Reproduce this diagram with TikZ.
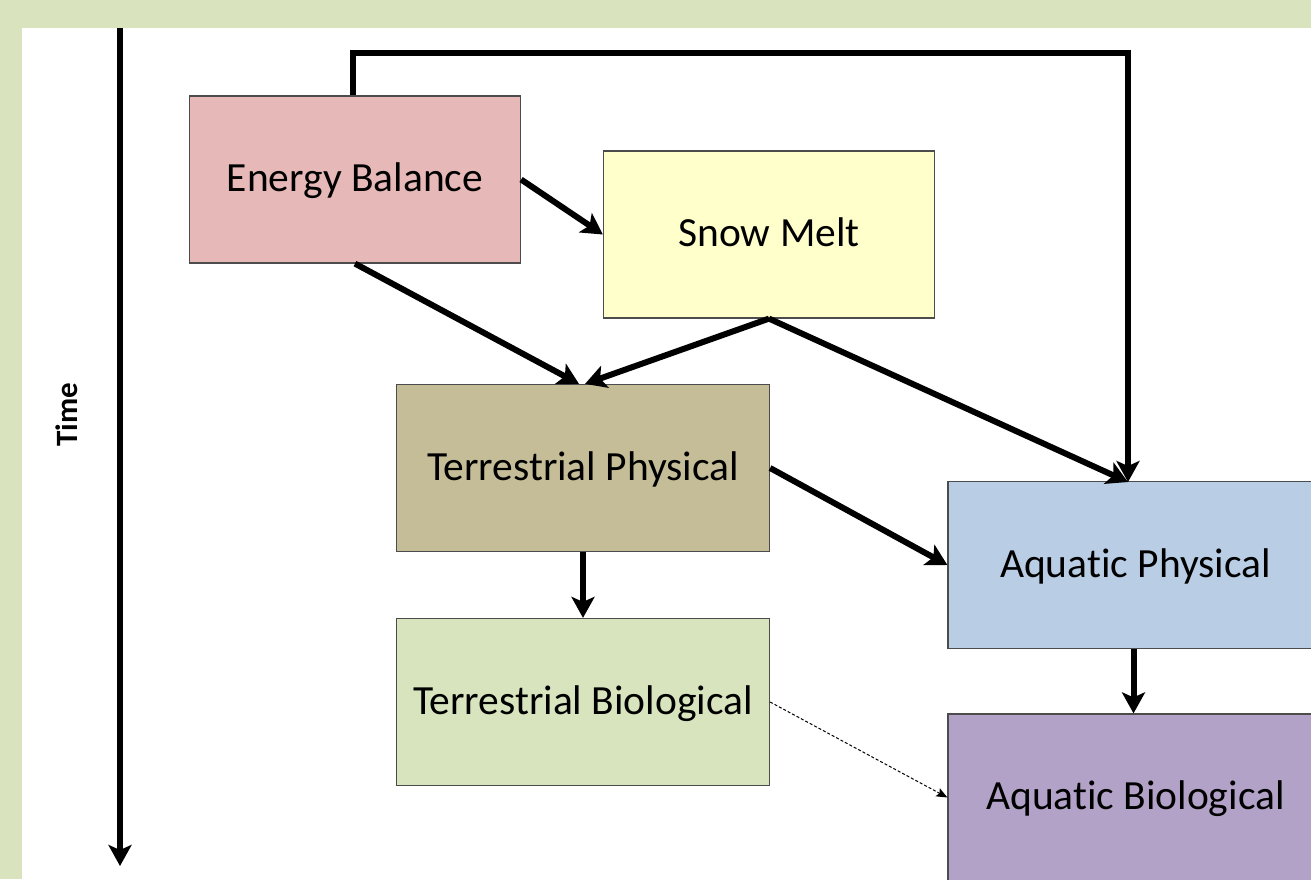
\documentclass[tikz,border=0pt]{standalone}
\usepackage{fontspec}
\setmainfont{Carlito}[Ligatures={NoCommon}]
\usetikzlibrary{arrows.meta}
\definecolor{bggreen}{HTML}{D9E4BF}
\definecolor{cEB}{HTML}{E6B9B8}
\definecolor{cSM}{HTML}{FFFFCC}
\definecolor{cTP}{HTML}{C4BD97}
\definecolor{cAP}{HTML}{B9CDE5}
\definecolor{cTB}{HTML}{D7E4BD}
\definecolor{cAB}{HTML}{B3A2C7}
\tikzset{
  box/.style={draw=black!70, line width=1.2pt, minimum width=331pt, minimum height=167pt, inner sep=0pt,
    font=\fontsize{41.5}{48}\selectfont, text=black, text depth=4pt},
  wide/.style={minimum width=373pt},
  flow/.style={line width=6pt, -{Stealth[length=21pt,width=23pt,inset=5pt]}},
  thin/.style={line width=1pt, dashed, dash pattern=on 3pt off 2pt, -{Stealth[length=11pt,width=9pt,inset=2pt]}}
}
\begin{document}
\begin{tikzpicture}[x=1pt,y=-1pt]
\useasboundingbox (0,0) rectangle (1311,879);
\clip (0,0) rectangle (1311,879);
\fill[bggreen] (0,0) rectangle (1311,879);
\fill[white] (22,28) rectangle (1320,890);
% time axis
\coordinate (t0) at (120,28);
\coordinate (t1) at (120,866);
\draw[line width=6pt, -{Stealth[length=21pt,width=23pt,inset=5pt]}] (t0) -- (t1);
\node[rotate=90, font=\fontsize{31}{36}\selectfont\bfseries] (time) at (67,415) {Time};
% boxes
\node[box, fill=cEB] (eb) at (355,179.5) {Energy Balance};
\node[box, fill=cSM] (sm) at (769,234.5) {Snow Melt};
\node[box, wide, fill=cTP] (tp) at (583,468) {Terrestrial Physical};
\node[box, wide, fill=cTB] (tb) at (583,702) {Terrestrial Biological};
\node[box, wide, minimum width=375pt, fill=cAP] (ap) at (1135.5,565) {Aquatic Physical};
\node[box, wide, minimum width=375pt, fill=cAB] (ab) at (1135.5,797.5) {Aquatic Biological};
% connectors
\coordinate (apin) at (1128,482);
\coordinate (c1) at (353,53);
\coordinate (c2) at (1128,53);
\draw[flow] ([xshift=-2pt]eb.north) -- (c1) -- (c2) -- (apin);
\draw[flow] (eb.east) -- (sm.west);
\draw[flow] (eb.south) -- ([xshift=-4pt]tp.north);
\draw[flow] (sm.south) -- ([xshift=2pt]tp.north);
\draw[flow] (sm.south) -- (apin);
\draw[flow] (tp.east) -- (ap.west);
\draw[flow] (tp.south) -- (tb.north);
\draw[flow] ([xshift=-2pt]ap.south) -- ([xshift=-2pt]ab.north);
\draw[thin] (tb.east) -- (ab.west);
\end{tikzpicture}
\end{document}
